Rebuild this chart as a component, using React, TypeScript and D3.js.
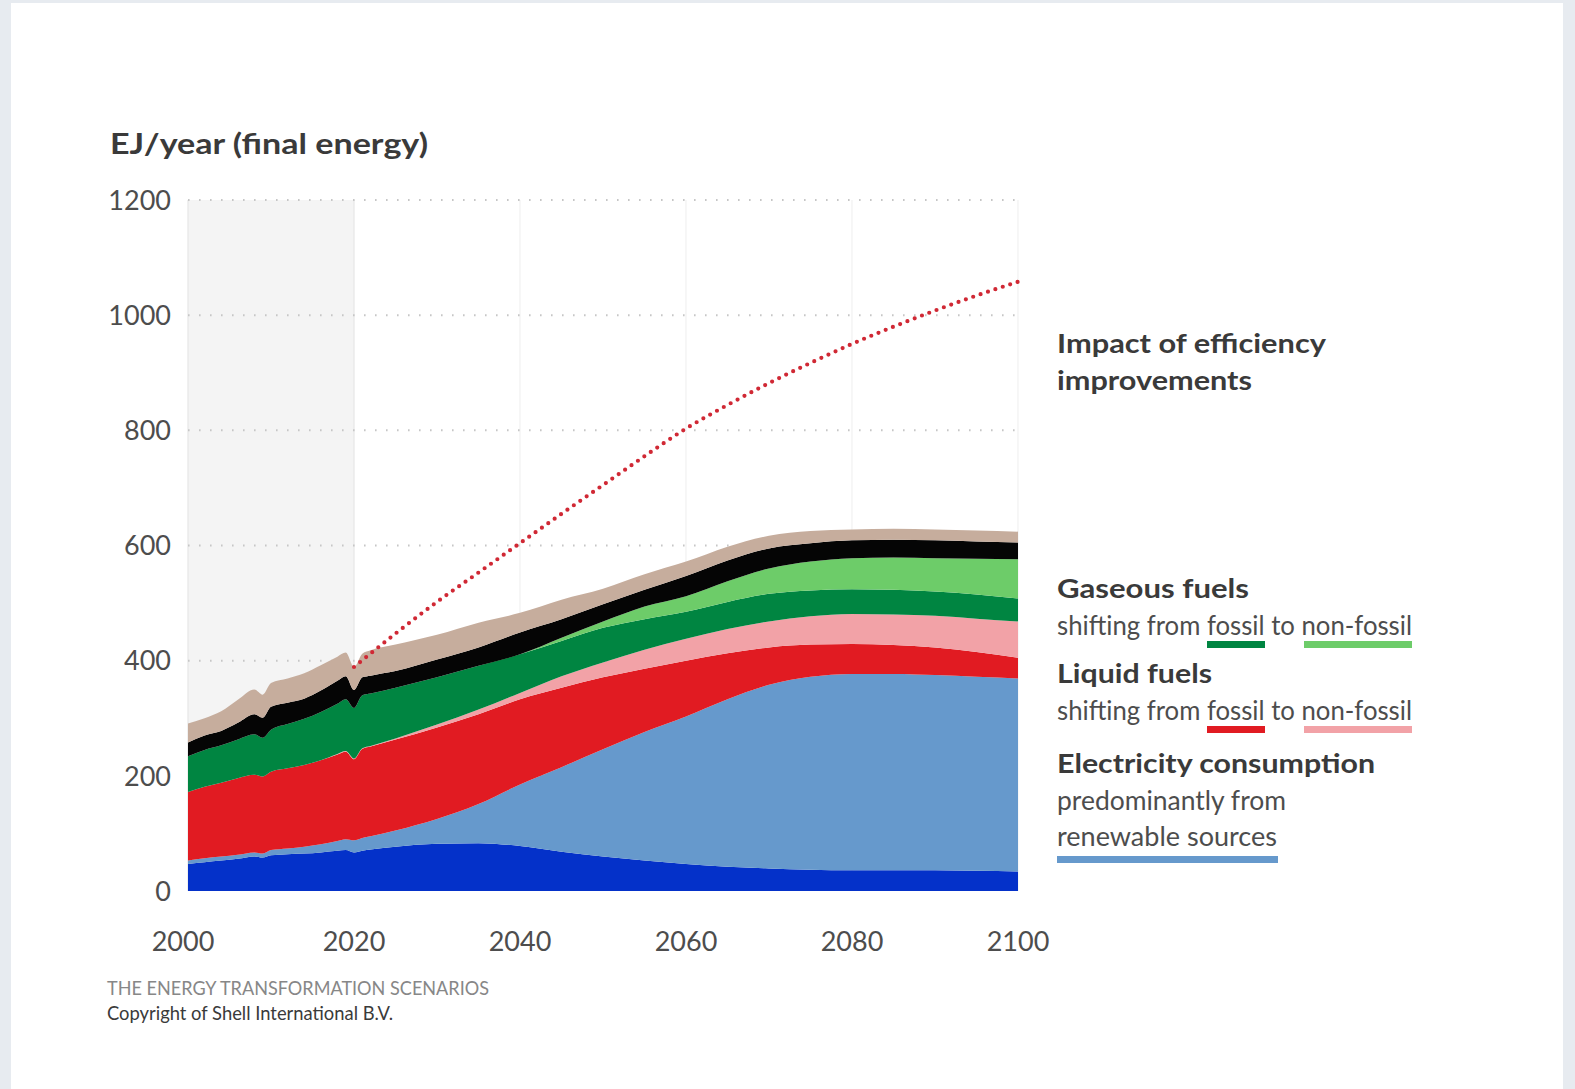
import React from "react";
import * as d3 from "d3";

// Final energy by carrier, EJ/year
const YEARS = [2000, 2002, 2004, 2006, 2008, 2009, 2010, 2012, 2014, 2016, 2018, 2019, 2020, 2021, 2022, 2025, 2030, 2035, 2040, 2045, 2050, 2055, 2060, 2065, 2070, 2075, 2080, 2085, 2090, 2095, 2100];
const ELEC_OTHER = [47, 50, 53, 56, 60, 58, 62, 64, 65, 67, 70, 71, 67, 70, 72, 77, 82, 83, 78, 68, 60, 53, 47, 42, 39, 37, 36, 36, 36, 35, 34];
const ELEC_RENEWABLE = [6, 7, 7, 7, 7, 7, 9, 10, 12, 14, 17, 19, 21, 22, 23, 28, 43, 68, 107, 147, 186, 223, 256, 291, 319, 335, 341, 341, 339, 337, 335];
const LIQUID_FOSSIL = [119, 124, 128, 133, 135, 134, 136, 139, 142, 146, 150, 152, 141, 155, 156, 158, 159, 156, 148, 138, 125, 110, 97, 80, 65, 56, 52, 50, 48, 43, 36];
const LIQUID_NON_FOSSIL = [0, 0, 0, 0, 0, 0, 0, 0, 0, 0, 1, 1, 1, 1, 1, 2, 5, 8, 11, 20, 26, 33, 38, 42, 45, 49, 52, 53, 55, 58, 63];
const GAS_FOSSIL = [62, 64, 65, 67, 70, 67, 73, 77, 80, 84, 87, 90, 88, 92, 91, 88, 82, 76, 67, 61, 60, 53, 47, 47, 48, 45, 43, 43, 42, 42, 40];
const GAS_NON_FOSSIL = [0, 0, 0, 0, 0, 0, 0, 0, 0, 0, 0, 0, 0, 0, 0, 0, 0, 0, 0, 6, 11, 22, 27, 36, 44, 50, 54, 56, 58, 62, 68];
const SOLIDS = [24, 25, 25, 29, 35, 35, 40, 37, 35, 37, 40, 40, 31, 31, 31, 29, 31, 32, 38, 32, 30, 29, 35, 36, 35, 32, 31, 31, 31, 30, 29];
const BIOMASS = [33, 30, 34, 40, 43, 40, 41, 42, 44, 44, 42, 41, 40, 41, 44, 46, 43, 43, 34, 34, 27, 27, 25, 24, 22, 21, 19, 19, 19, 19, 19];

// Demand without efficiency improvements
const EFF_YEARS = [2020, 2025, 2030, 2035, 2040, 2045, 2050, 2055, 2060, 2065, 2070, 2075, 2080, 2085, 2090, 2095, 2100];
const EFF_VALUES = [389, 447, 502, 553, 604, 655, 705, 755, 803, 844, 882, 917, 950, 980, 1008, 1034, 1058];

const Y_TICKS = [0, 200, 400, 600, 800, 1000, 1200];
const X_TICKS = [2000, 2020, 2040, 2060, 2080, 2100];

const SERIES = [
  { key: "elecOther", values: ELEC_OTHER, color: "#0431c9" },
  { key: "elecRenewable", values: ELEC_RENEWABLE, color: "#6699cc" },
  { key: "liquidFossil", values: LIQUID_FOSSIL, color: "#e11b22" },
  { key: "liquidNonFossil", values: LIQUID_NON_FOSSIL, color: "#f2a2a7" },
  { key: "gasFossil", values: GAS_FOSSIL, color: "#008541" },
  { key: "gasNonFossil", values: GAS_NON_FOSSIL, color: "#6dcc69" },
  { key: "solids", values: SOLIDS, color: "#050505" },
  { key: "biomass", values: BIOMASS, color: "#c6ad9d" },
];

const W = 1575;
const H = 1089;
const FONT = "Lato, 'Noto Sans', sans-serif";

export default function App() {
  const x = d3.scaleLinear().domain([2000, 2100]).range([188, 1018]);
  const y = d3.scaleLinear().domain([0, 1200]).range([891, 200]);

  const rows = YEARS.map((year, i) => {
    const r: Record<string, number> = { year };
    SERIES.forEach((s) => (r[s.key] = s.values[i]));
    return r;
  });
  const stacked = d3.stack<Record<string, number>>().keys(SERIES.map((s) => s.key))(rows);

  const area = d3
    .area<d3.SeriesPoint<Record<string, number>>>()
    .x((d) => x(d.data.year))
    .y0((d) => y(d[0]))
    .y1((d) => y(d[1]))
    .curve(d3.curveMonotoneX);

  const effLine = d3
    .line<number>()
    .x((_, i) => x(EFF_YEARS[i]))
    .y((v) => y(v))
    .curve(d3.curveMonotoneX);

  const [x0, x1] = x.range();
  const yTop = y(1200);
  const yBottom = y(0);

  const bold = { fontFamily: FONT, fontWeight: 700, fill: "#3a3a3a" } as const;
  const regular = { fontFamily: FONT, fontWeight: 400, fill: "#4d4d4d" } as const;

  return (
    <svg
      width={W}
      height={H}
      viewBox={`0 0 ${W} ${H}`}
      style={{ position: "absolute", left: 0, top: 0, display: "block" }}
    >
      {/* frame */}
      <rect x={0} y={0} width={W} height={H} fill="#e7ebf0" />
      <rect x={11} y={3} width={1552} height={H - 3} fill="#ffffff" />

      {/* historical period */}
      <rect x={x(2000)} y={yTop} width={x(2020) - x(2000)} height={yBottom - yTop} fill="#f4f4f4" />

      {/* vertical guides */}
      {X_TICKS.map((t) => (
        <line
          key={`v${t}`}
          x1={x(t)}
          x2={x(t)}
          y1={yTop}
          y2={yBottom}
          stroke={t <= 2020 ? "#e6e6e6" : "#f1f1f1"}
          strokeWidth={1.2}
        />
      ))}

      {/* dotted horizontal grid */}
      {Y_TICKS.filter((t) => t > 0).map((t) => (
        <line
          key={`h${t}`}
          x1={x0}
          x2={x1}
          y1={y(t)}
          y2={y(t)}
          stroke="#c6c6c6"
          strokeWidth={2}
          strokeDasharray="1.6 9.4"
        />
      ))}

      {/* stacked areas */}
      {stacked.map((layer, i) => (
        <path key={layer.key} d={area(layer) || ""} fill={SERIES[i].color} />
      ))}

      {/* efficiency impact line */}
      <path
        d={effLine(EFF_VALUES) || ""}
        fill="none"
        stroke="#d02834"
        strokeWidth={4.2}
        strokeLinecap="round"
        strokeDasharray="0 7.8"
      />

      {/* y axis labels */}
      {Y_TICKS.map((t) => (
        <text
          key={`yl${t}`}
          x={171}
          y={y(t)}
          dy="0.36em"
          textAnchor="end"
          fontSize={27}
          {...regular}
        >
          {t}
        </text>
      ))}

      {/* x axis labels */}
      {X_TICKS.map((t) => (
        <text key={`xl${t}`} x={x(t) - (t === 2000 ? 5 : 0)} y={951} textAnchor="middle" fontSize={27} {...regular}>
          {t}
        </text>
      ))}

      {/* unit title */}
      <text x={110} y={154} fontSize={29} textLength={318} lengthAdjust="spacingAndGlyphs" {...bold}>
        EJ/year (final energy)
      </text>

      {/* annotations */}
      <text x={1057} y={353} fontSize={27} textLength={269} lengthAdjust="spacingAndGlyphs" {...bold}>
        Impact of efficiency
      </text>
      <text x={1057} y={390} fontSize={27} textLength={195} lengthAdjust="spacingAndGlyphs" {...bold}>
        improvements
      </text>

      <text x={1057} y={598} fontSize={27} textLength={192} lengthAdjust="spacingAndGlyphs" {...bold}>
        Gaseous fuels
      </text>
      <text x={1057} y={635} fontSize={26} textLength={355} lengthAdjust="spacingAndGlyphs" {...regular}>
        shifting from fossil to non-fossil
      </text>
      <rect x={1207} y={641} width={58} height={7} fill={SERIES[4].color} />
      <rect x={1304} y={641} width={108} height={7} fill={SERIES[5].color} />

      <text x={1057} y={683} fontSize={27} textLength={155} lengthAdjust="spacingAndGlyphs" {...bold}>
        Liquid fuels
      </text>
      <text x={1057} y={720} fontSize={26} textLength={355} lengthAdjust="spacingAndGlyphs" {...regular}>
        shifting from fossil to non-fossil
      </text>
      <rect x={1207} y={726} width={58} height={7} fill={SERIES[2].color} />
      <rect x={1304} y={726} width={108} height={7} fill={SERIES[3].color} />

      <text x={1057} y={773} fontSize={27} textLength={318} lengthAdjust="spacingAndGlyphs" {...bold}>
        Electricity consumption
      </text>
      <text x={1057} y={810} fontSize={26} textLength={229} lengthAdjust="spacingAndGlyphs" {...regular}>
        predominantly from
      </text>
      <text x={1057} y={846} fontSize={26} textLength={220} lengthAdjust="spacingAndGlyphs" {...regular}>
        renewable sources
      </text>
      <rect x={1057} y={856} width={221} height={7} fill={SERIES[1].color} />

      {/* footer */}
      <text x={107} y={995} fontSize={20} textLength={382} lengthAdjust="spacingAndGlyphs" fontFamily={FONT} fill="#878787">
        THE ENERGY TRANSFORMATION SCENARIOS
      </text>
      <text x={107} y={1020} fontSize={20} textLength={286} lengthAdjust="spacingAndGlyphs" fontFamily={FONT} fill="#3a3a3a">
        Copyright of Shell International B.V.
      </text>
    </svg>
  );
}
